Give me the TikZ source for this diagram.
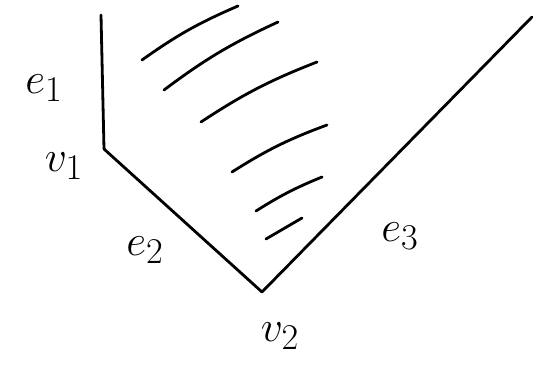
\documentclass[tikz,border=0pt]{standalone}
\usetikzlibrary{positioning}

\tikzset{
  edge/.style={line width=2.8pt, line cap=round, line join=round},
  hatch/.style={line width=2.8pt, line cap=round},
  lab/.style={font=\Huge, inner sep=0pt}
}
\newcommand{\sketchlab}[1]{\scalebox{1.75}{$#1$}}

\begin{document}
\begin{tikzpicture}[x=1pt, y=-1pt]

    \useasboundingbox (0,0) rectangle (544,369);

    % Points
    \coordinate (top1) at (101,15);
    \coordinate (v1) at (104,149);
    \coordinate (v2) at (262,292);
    \coordinate (top3) at (532,17);

    % Edges
    \draw[edge] (top1) -- (v1);
    \draw[edge] (v1) -- (v2);
    \draw[edge] (v2) -- (top3);

    % Hatching
    \draw[hatch] (142,60) to[bend left=6] (238,6);
    \draw[hatch] (164,90) to[bend left=6] (278,22);
    \draw[hatch] (201,122) to[bend left=6] (317,62);
    \draw[hatch] (232,172) to[bend left=6] (327,125);
    \draw[hatch] (256,211) to[bend left=5] (322,177);
    \draw[hatch] (266,239) -- (302,218);

    % Labels
    \node[lab] (e1) at (44,88) {\sketchlab{e_1}};
    \node[lab] (n1) at (64,166) {\sketchlab{v_1}};
    \node[lab] (e2) at (145,250) {\sketchlab{e_2}};
    \node[lab] (n2) at (280,336) {\sketchlab{v_2}};
    \node[lab] (e3) at (400,236) {\sketchlab{e_3}};

\end{tikzpicture}
\end{document}
